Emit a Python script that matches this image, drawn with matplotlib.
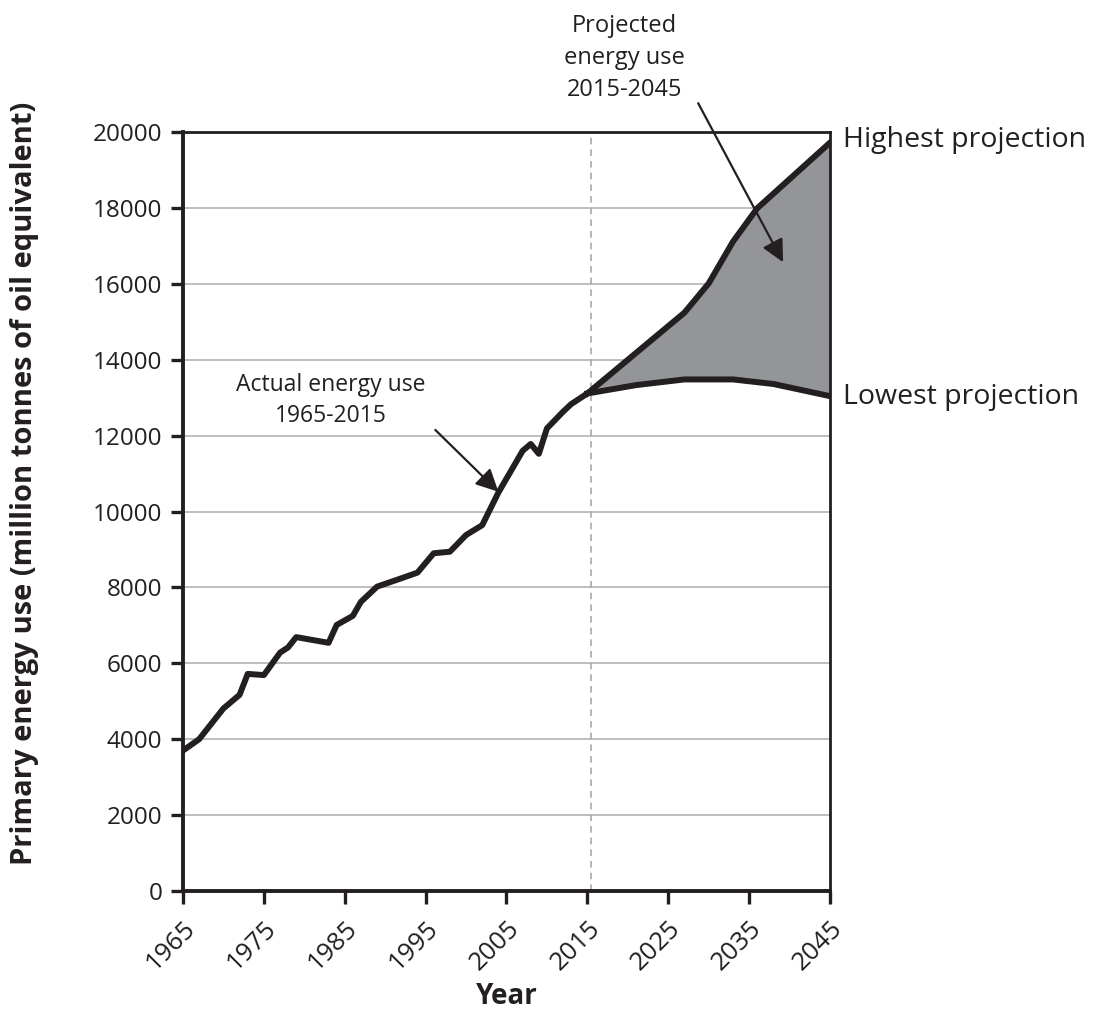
import matplotlib
matplotlib.use("Agg")
from matplotlib import pyplot as plt
import numpy as np

# data
ACTUAL_YEARS = [1965, 1967, 1970, 1972, 1973, 1975, 1977, 1978, 1979, 1983,
                1984, 1986, 1987, 1989, 1992, 1994, 1996, 1998, 2000, 2002,
                2004, 2007, 2008, 2009, 2010, 2012, 2013, 2015]
ACTUAL_USE = [3700, 4000, 4810, 5170, 5720, 5690, 6280, 6420, 6690, 6540,
              7010, 7250, 7620, 8020, 8240, 8390, 8900, 8940, 9380, 9640,
              10500, 11600, 11780, 11520, 12190, 12630, 12830, 13110]

HIGH_YEARS = [2015, 2027, 2030, 2033, 2036, 2045]
HIGH_USE = [13110, 15240, 16010, 17110, 17990, 19720]
LOW_YEARS = [2015, 2021, 2027, 2033, 2038, 2045]
LOW_USE = [13110, 13330, 13480, 13480, 13360, 13040]

X_TICKS = list(range(1965, 2046, 10))
Y_TICKS = list(range(0, 20001, 2000))

INK = "#231f20"
FILL = "#939598"
FONT = ["Open Sans", "DejaVu Sans"]


def main():
    plt.rcParams["font.family"] = FONT
    fig = plt.figure(figsize=(10.97, 10.17), dpi=100)
    ax = fig.add_axes([0.1668, 0.1239, 0.5898, 0.7463])

    # shaded band between the two projections
    band_x = sorted(set(HIGH_YEARS + LOW_YEARS))
    ax.fill_between(band_x, np.interp(band_x, LOW_YEARS, LOW_USE),
                    np.interp(band_x, HIGH_YEARS, HIGH_USE),
                    color=FILL, lw=0, zorder=2)

    ax.plot(ACTUAL_YEARS, ACTUAL_USE, color=INK, lw=4.3, zorder=4)
    ax.plot(HIGH_YEARS, HIGH_USE, color=INK, lw=4.3, zorder=4)
    ax.plot(LOW_YEARS, LOW_USE, color=INK, lw=4.3, zorder=4)

    ax.axvline(2015.4, color="#a7a9ac", lw=1.2, ls=(0, (4, 3)), zorder=1)

    ax.set_xlim(1965, 2045)
    ax.set_ylim(0, 20000)
    ax.set_xticks(X_TICKS)
    ax.set_yticks(Y_TICKS)
    ax.grid(True, axis="y", color="#b1b3b6", lw=1.2, zorder=0)
    ax.set_axisbelow(True)

    for side in ["left", "bottom"]:
        ax.spines[side].set_linewidth(2.8)
        ax.spines[side].set_color(INK)
    for side in ["top", "right"]:
        ax.spines[side].set_linewidth(2)
        ax.spines[side].set_color(INK)

    ax.tick_params(axis="both", direction="out", length=9, width=2.4,
                   colors=INK, labelsize=17.5, pad=6)
    ax.tick_params(axis="x", labelsize=18.5, pad=9)
    for label in ax.get_xticklabels():
        label.set_rotation(45)
        label.set_ha("right")
        label.set_rotation_mode("anchor")

    ax.set_xlabel("Year", fontsize=20, fontweight="bold", color=INK)
    ax.xaxis.set_label_coords(0.5, -0.12)
    ax.set_ylabel("Primary energy use (million tonnes of oil equivalent)",
                  fontsize=21, fontweight="bold", color=INK)
    ax.yaxis.set_label_coords(-0.222, 0.5375)

    ax.text(1983.3, 12920, "Actual energy use\n1965-2015", ha="center",
            va="center", fontsize=16.5, color=INK, linespacing=1.4)
    ax.annotate("", xy=(2004.0, 10520), xytext=(1996.2, 12150),
                arrowprops=dict(arrowstyle="-|>", color=INK, lw=1.6,
                                mutation_scale=34, shrinkA=0, shrinkB=0))

    ax.text(2019.6, 21950, "Projected\nenergy use\n2015-2045", ha="center",
            va="center", fontsize=17, color=INK, linespacing=1.45,
            clip_on=False)
    ax.annotate("", xy=(2039.2, 16570), xytext=(2028.7, 20760),
                arrowprops=dict(arrowstyle="-|>", color=INK, lw=1.6,
                                mutation_scale=34, shrinkA=0, shrinkB=0),
                annotation_clip=False)

    ax.text(2046.6, 19800, "Highest projection", ha="left", va="center",
            fontsize=20.5, color=INK, clip_on=False)
    ax.text(2046.6, 13010, "Lowest projection", ha="left", va="center",
            fontsize=20.5, color=INK, clip_on=False)

    fig.savefig("out.png", dpi=100)


if __name__ == "__main__":
    main()
